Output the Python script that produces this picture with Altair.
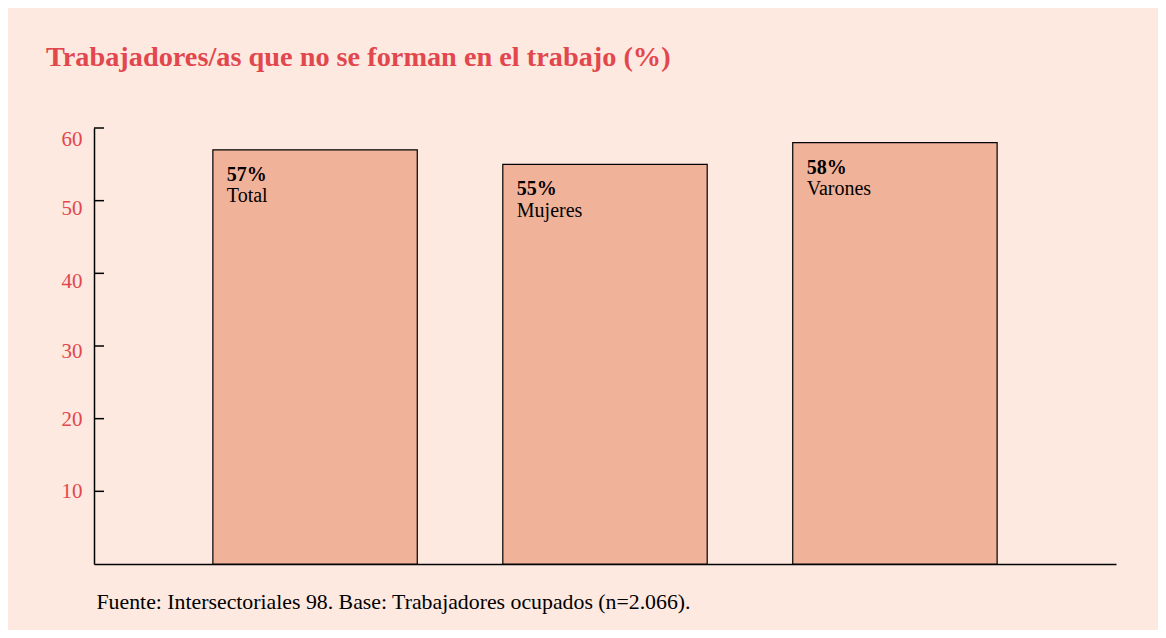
import altair as alt
import pandas as pd

categories = ["Total", "Mujeres", "Varones"]
values = [57, 55, 58]
y_ticks = [10, 20, 30, 40, 50, 60]

title_text = "Trabajadores/as que no se forman en el trabajo (%)"
source_text = "Fuente: Intersectoriales 98. Base: Trabajadores ocupados (n=2.066)."

RED = "#e2474d"
BG = "#fde9e0"
BAR = "#f1b29a"
FONT = "Liberation Serif"

df = pd.DataFrame({"cat": categories, "value": values})
df_ticks = pd.DataFrame({"value": y_ticks})

xscale = alt.Scale(domain=categories, paddingInner=0.295, paddingOuter=0.41)
yscale = alt.Scale(domain=[0, 60], nice=False, zero=True)

label_offset = {
    "condition": [
        {"test": "datum.value == 60", "value": 11},
        {"test": "datum.value == 50", "value": 8},
        {"test": "datum.value == 40", "value": 8},
        {"test": "datum.value == 30", "value": 5},
        {"test": "datum.value == 20", "value": 1},
    ],
    "value": 0,
}

y_axis = alt.Axis(
    title=None,
    values=y_ticks,
    grid=False,
    ticks=False,
    tickSize=0,
    domainColor="black",
    domainWidth=1.5,
    labelFont=FONT,
    labelFontSize=21,
    labelColor=RED,
    labelPadding=12,
    labelOffset=label_offset,
)

base = alt.Chart(df)

bars = base.mark_bar(fill=BAR, stroke="black", strokeWidth=1.2).encode(
    x=alt.X(
        "cat:N",
        scale=xscale,
        sort=categories,
        axis=alt.Axis(
            title=source_text,
            labels=False,
            ticks=False,
            domain=True,
            domainColor="black",
            domainWidth=1.5,
            titleFont=FONT,
            titleFontSize=21.8,
            titleFontWeight="normal",
            titleColor="black",
            titleAnchor="start",
            titleAlign="left",
            titleBaseline="alphabetic",
            titleX=2,
            titleY=44,
        ),
    ),
    y=alt.Y("value:Q", scale=yscale, axis=y_axis),
)

pct = base.transform_calculate(lbl="datum.value + '%'").mark_text(
    align="left", baseline="alphabetic", dx=14, dy=31,
    font=FONT, fontSize=20, fontWeight="bold", color="black",
).encode(
    x=alt.X("cat:N", scale=xscale, sort=categories, bandPosition=0),
    y=alt.Y("value:Q", scale=yscale, axis=y_axis),
    text="lbl:N",
)

names = base.mark_text(
    align="left", baseline="alphabetic", dx=14, dy=52.5,
    font=FONT, fontSize=20, fontWeight="normal", color="black",
).encode(
    x=alt.X("cat:N", scale=xscale, sort=categories, bandPosition=0),
    y=alt.Y("value:Q", scale=yscale, axis=y_axis),
    text="cat:N",
)

ticks = alt.Chart(df_ticks).mark_rule(color="black", strokeWidth=1.5).encode(
    y=alt.Y("value:Q", scale=yscale, axis=y_axis),
    x=alt.value(0),
    x2=alt.value(10),
)

chart = alt.layer(bars, ticks, pct, names).properties(
    width=1022,
    height=436,
    autosize="none",
    padding={"left": 86, "top": 120, "right": 42, "bottom": 66},
    background=BG,
    title=alt.TitleParams(
        text=title_text,
        anchor="start",
        frame="group",
        dx=-48,
        offset=33,
        baseline="alphabetic",
        font=FONT,
        fontSize=28.3,
        fontWeight="bold",
        color=RED,
    ),
).configure_view(stroke=None)

chart.save("out.html", embed_options={"renderer": "svg", "actions": False})
